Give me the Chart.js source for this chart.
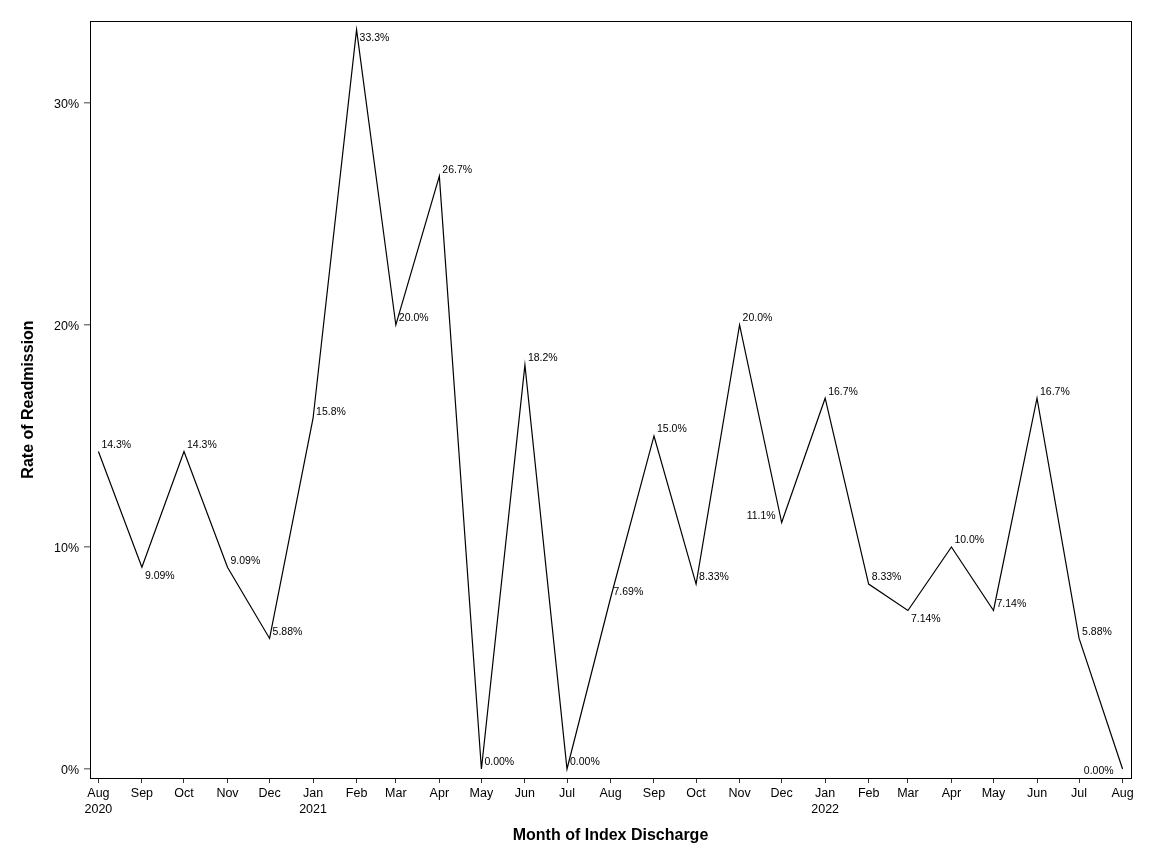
<!DOCTYPE html>
<html>
<head>
<meta charset="utf-8">
<script src="https://cdn.jsdelivr.net/npm/chart.js@4"></script>
<style>
  html, body { margin: 0; padding: 0; background: #fff; }
  #wrap { width: 1152px; height: 864px; }
</style>
</head>
<body>
<div id="wrap"><canvas id="c"></canvas></div>
<script>
// months of index discharge
const months = ['2020-08','2020-09','2020-10','2020-11','2020-12','2021-01','2021-02','2021-03','2021-04',
  '2021-05','2021-06','2021-07','2021-08','2021-09','2021-10','2021-11','2021-12','2022-01','2022-02',
  '2022-03','2022-04','2022-05','2022-06','2022-07','2022-08'];
// readmission rate, %
const rates = [14.3, 9.09, 14.3, 9.09, 5.88, 15.8, 33.3, 20.0, 26.7, 0, 18.2, 0, 7.69, 15.0, 8.33,
  20.0, 11.1, 16.7, 8.33, 7.14, 10.0, 7.14, 16.7, 5.88, 0];
const yTicks = [0, 10, 20, 30];
const monthNames = ['Jan','Feb','Mar','Apr','May','Jun','Jul','Aug','Sep','Oct','Nov','Dec'];
// where each point label sits: r = right/above, b = right/below, l = left
const labelPos = ['r','b','r','r','r','r','b','r','r','r','r','r','r','r','r','r','l','r','r','b','r','r','r','r','l0'];

const DAY = 86400000;
const t0 = Date.UTC(2020, 7, 1);
const dayOf = m => { const [y, mo] = m.split('-').map(Number); return (Date.UTC(y, mo - 1, 1) - t0) / DAY; };
const xs = months.map(dayOf);

const font = 'Liberation Sans';

const boxAndLabels = {
  id: 'boxAndLabels',
  afterDatasetsDraw(chart) {
    const {ctx, chartArea: a} = chart;
    ctx.save();
    ctx.strokeStyle = '#000';
    ctx.lineWidth = 1;
    ctx.strokeRect(Math.round(a.left) + 0.5, Math.round(a.top) + 0.5,
      Math.round(a.right - a.left), Math.round(a.bottom - a.top));
    ctx.font = '10.5px "' + font + '"';
    ctx.fillStyle = '#000';
    ctx.textBaseline = 'middle';
    chart.getDatasetMeta(0).data.forEach((pt, i) => {
      const txt = rates[i].toPrecision(3) + '%';
      const p = labelPos[i];
      if (p === 'b') { ctx.textAlign = 'left'; ctx.fillText(txt, pt.x + 3, pt.y + 8.5); }
      else if (p === 'l') { ctx.textAlign = 'right'; ctx.fillText(txt, pt.x - 6, pt.y - 6.5); }
      else if (p === 'l0') { ctx.textAlign = 'right'; ctx.fillText(txt, pt.x - 9, pt.y + 2); }
      else { ctx.textAlign = 'left'; ctx.fillText(txt, pt.x + 3, pt.y - 6.5); }
    });
    ctx.restore();
  }
};

new Chart(document.getElementById('c'), {
  type: 'line',
  data: {
    datasets: [{
      data: xs.map((x, i) => ({x: x, y: rates[i]})),
      borderColor: '#000',
      borderWidth: 1.2,
      pointRadius: 0,
      tension: 0,
      fill: false
    }]
  },
  options: {
    responsive: true,
    maintainAspectRatio: false,
    animation: false,
    layout: { padding: { top: 21, right: 21, left: 0, bottom: 0 } },
    plugins: { legend: { display: false }, tooltip: { enabled: false } },
    scales: {
      x: {
        type: 'linear',
        min: -6, max: 736,
        afterFit: s => { s.height = 86; },
        afterBuildTicks: s => { s.ticks = xs.map(v => ({value: v})); },
        border: { display: false },
        grid: { drawOnChartArea: false, tickLength: 5, tickColor: '#333', lineWidth: 1 },
        ticks: {
          autoSkip: false, maxRotation: 0, padding: 3,
          color: '#000', font: { family: font, size: 12.5, lineHeight: 1.25 },
          callback: (v, i) => {
            const [y, mo] = months[i].split('-').map(Number);
            const name = monthNames[mo - 1];
            return (i === 0 || mo === 1) ? [name, String(y)] : name;
          }
        },
        title: { display: true, text: 'Month of Index Discharge', color: '#000',
          font: { family: font, size: 16, weight: 'bold' }, padding: { top: 0, bottom: 19 } }
      },
      y: {
        min: -0.405, max: 33.69,
        afterFit: s => { s.width = 90; },
        afterBuildTicks: s => { s.ticks = yTicks.map(v => ({value: v})); },
        border: { display: false },
        grid: { drawOnChartArea: false, tickLength: 6, tickColor: '#808080', lineWidth: 1.5 },
        ticks: { padding: 5, labelOffset: 1.5, color: '#000', font: { family: font, size: 12.5 },
          callback: v => v + '%' },
        title: { display: true, text: 'Rate of Readmission', color: '#000',
          font: { family: font, size: 16, weight: 'bold' }, padding: { top: 19, bottom: 0 } }
      }
    }
  },
  plugins: [boxAndLabels]
});
</script>
</body>
</html>
